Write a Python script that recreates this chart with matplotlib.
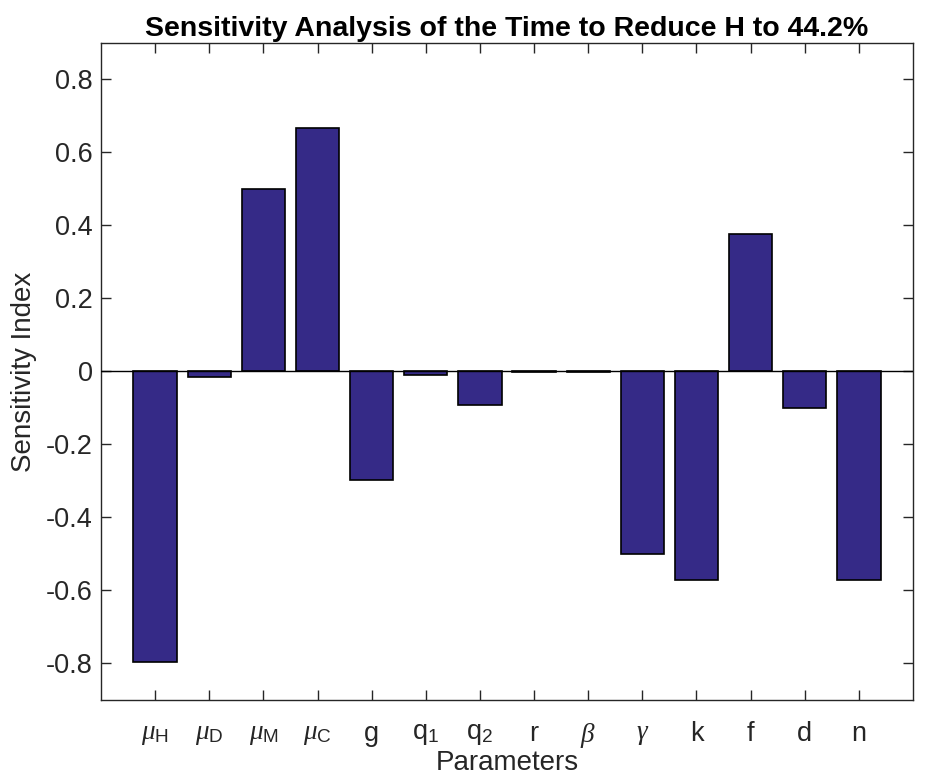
import matplotlib
matplotlib.use("Agg")
import matplotlib.pyplot as plt
import numpy as np

# parameters and sensitivity indices
params = [r'$\mu_\mathrm{H}$', r'$\mu_\mathrm{D}$', r'$\mu_\mathrm{M}$', r'$\mu_\mathrm{C}$',
          'g', r'q$_1$', r'q$_2$', 'r', r'$\beta$', r'$\gamma$', 'k', 'f', 'd', 'n']
sens_index = [-0.795, -0.016, 0.499, 0.668, -0.296, -0.011, -0.093,
              -0.002, -0.001, -0.499, -0.570, 0.378, -0.101, -0.570]
gray_idx = [8, 9]  # beta, gamma come out gray in the original

plt.rcParams['font.family'] = ['Liberation Sans', 'DejaVu Sans']
plt.rcParams['mathtext.fontset'] = 'custom'
plt.rcParams['mathtext.rm'] = 'Liberation Sans'
plt.rcParams['mathtext.it'] = 'Liberation Serif:italic'

fig = plt.figure(figsize=(9.3, 7.8), dpi=100)
ax = fig.add_axes([0.1086, 0.1026, 0.8731, 0.8423])

x = np.arange(1, len(params) + 1)
ax.bar(x, sens_index, width=0.8, color='#352a87', edgecolor='black', linewidth=1.2, zorder=2)
ax.axhline(0, color='black', linewidth=1.0, zorder=3)

ax.set_xlim(0, 15)
ax.set_ylim(-0.9, 0.9)
ax.set_yticks(np.arange(-0.8, 0.81, 0.2))
ax.set_yticklabels(['-0.8', '-0.6', '-0.4', '-0.2', '0', '0.2', '0.4', '0.6', '0.8'])
ax.set_xticks(x)
ax.set_xticklabels(params)
xlbls = ax.get_xticklabels()
for i in gray_idx:
    xlbls[i].set_color('#808080')

ax.tick_params(direction='in', length=7, width=1, top=True, right=True,
               labelsize=19.5, colors='#262626')
ax.tick_params(axis='x', pad=15)
ax.tick_params(axis='y', pad=6)
for s in ax.spines.values():
    s.set_linewidth(1.0)
    s.set_color('#262626')

ax.set_xlabel('Parameters', fontsize=20, color='#262626', labelpad=0)
ax.set_ylabel('Sensitivity Index', fontsize=20, color='#262626', labelpad=6)
ax.set_title('Sensitivity Analysis of the Time to Reduce H to 44.2%',
             fontsize=20.5, fontweight='bold', pad=5)

fig.savefig('out.png', dpi=100)
